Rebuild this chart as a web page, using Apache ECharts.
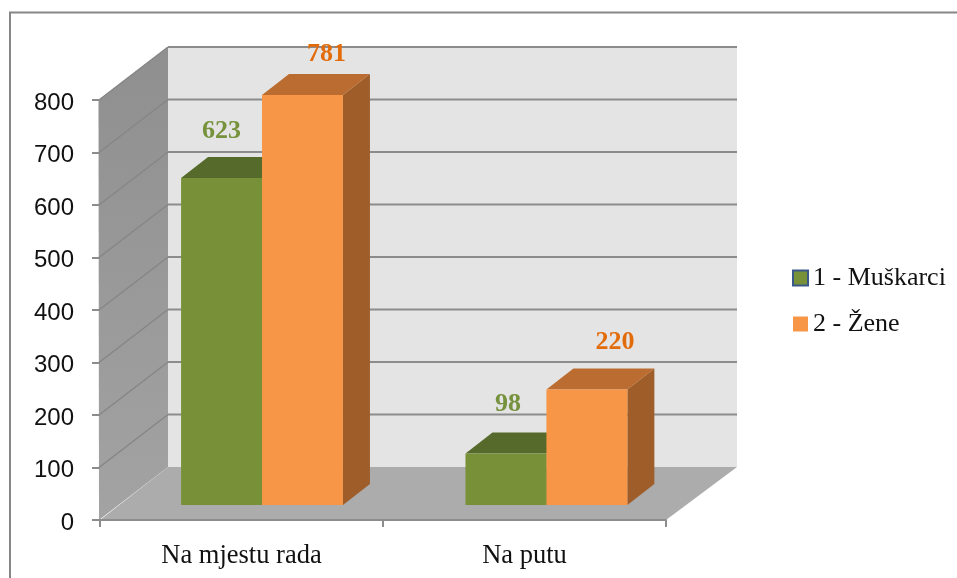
<!DOCTYPE html>
<html>
<head>
<meta charset="utf-8">
<title>Chart</title>
<style>
  html, body { margin: 0; padding: 0; background: #fff; overflow: hidden; }
  #chart { width: 957px; height: 578px; }
</style>
<script src="https://cdn.jsdelivr.net/npm/echarts@6/dist/echarts.min.js"></script>
</head>
<body>
<div id="chart"></div>
<script>
const categories = ['Na mjestu rada', 'Na putu'];
const menName = '1 - Muškarci';
const womenName = '2 - Žene';
const menValues = [623, 98];
const womenValues = [781, 220];
const yTicks = [100, 200, 300, 400, 500, 600, 700, 800];

// fake 3d: how far the back wall and the bars sit behind the axis plane
const wallDepth = [68, -53];
const wallExtra = 3; // back wall is a bit wider than the axis
const barInset = [19.8, -15];
const barDepth = [27, -21];
const barShare = 0.286;

// hand placed labels, same as the original
const menLabelShift = [[0, -47], [2, -49]];
const womenLabelShift = [[24, -41], [28, -47]];

function poly(points, fill) {
  return { type: 'polygon', shape: { points: points }, style: { fill: fill } };
}

function renderWalls(params, api) {
  const cs = params.coordSys;
  const left = cs.x;
  const right = cs.x + cs.width;
  const bottom = cs.y + cs.height;
  const dx = wallDepth[0];
  const dy = wallDepth[1];
  const backRight = right + dx + wallExtra;
  const y = api.coord([0, api.value(0)])[1];
  const children = [];

  if (params.dataIndex === 0) {
    children.push(poly([[left + dx, cs.y + dy], [backRight, cs.y + dy], [backRight, bottom + dy], [left + dx, bottom + dy]], '#e4e4e4'));
    children.push({
      type: 'polygon',
      shape: { points: [[left - 1.5, cs.y], [left + dx, cs.y + dy], [left + dx, bottom + dy], [left - 1, bottom]] },
      style: {
        fill: new echarts.graphic.LinearGradient(0, 0, 0, 1, [
          { offset: 0, color: '#8f8f8f' },
          { offset: 1, color: '#a3a3a3' }
        ])
      }
    });
    children.push(poly([[left, bottom], [right, bottom], [backRight, bottom + dy], [left + dx, bottom + dy]], '#acacac'));
  }

  children.push({
    type: 'line',
    shape: { x1: left - 1, y1: y, x2: left + dx, y2: y + dy },
    style: { stroke: '#868686', lineWidth: 1.5 }
  });
  children.push({
    type: 'line',
    shape: { x1: left + dx, y1: y + dy, x2: backRight, y2: y + dy },
    style: { stroke: '#8c8c8c', lineWidth: 2 }
  });
  return { type: 'group', children: children };
}

function barRenderer(slot, colors, labelColor, labelShift) {
  return function (params, api) {
    const band = api.size([1, 0])[0];
    const w = band * barShare;
    const base = api.coord([api.value(0), 0]);
    const top = api.coord([api.value(0), api.value(1)]);
    const drift = (base[0] - params.coordSys.x) * 0.005;
    const x0 = base[0] + barInset[0] + drift + (slot === 0 ? -w : 0);
    const x1 = x0 + w;
    const y0 = base[1] + barInset[1];
    const y1 = top[1] + barInset[1];
    const dx = barDepth[0];
    const dy = barDepth[1];
    const shift = labelShift[params.dataIndex];
    return {
      type: 'group',
      children: [
        poly([[x1, y1], [x1 + dx, y1 + dy], [x1 + dx, y0 + dy], [x1, y0]], colors.side),
        poly([[x0, y1], [x1, y1], [x1 + dx, y1 + dy], [x0 + dx, y1 + dy]], colors.top),
        poly([[x0, y1], [x1, y1], [x1, y0], [x0, y0]], colors.front),
        {
          type: 'text',
          x: (x0 + x1) / 2 + shift[0],
          y: y1 + shift[1],
          style: {
            text: String(api.value(1)),
            fill: labelColor,
            font: 'bold 26px "Liberation Serif"',
            align: 'center',
            verticalAlign: 'middle'
          }
        }
      ]
    };
  };
}

const chart = echarts.init(document.getElementById('chart'), null, { renderer: 'canvas' });

chart.setOption({
  animation: false,
  backgroundColor: '#fff',
  graphic: [{
    type: 'polyline',
    silent: true,
    shape: { points: [[10, 600], [10, 12.5], [980, 12.5]] },
    style: { stroke: '#868686', lineWidth: 2, fill: 'none' }
  }],
  grid: { left: 100, top: 100, width: 566, height: 420, containLabel: false },
  legend: {
    orient: 'vertical',
    left: 792,
    top: 265,
    padding: 0,
    icon: 'rect',
    itemWidth: 15,
    itemHeight: 15,
    itemGap: 20,
    textStyle: { fontFamily: 'Liberation Serif', fontSize: 26, color: '#111' },
    data: [
      { name: menName, itemStyle: { color: '#789138', borderColor: '#38598a', borderWidth: 2 } },
      { name: womenName, itemStyle: { color: '#f79646', borderWidth: 0 } }
    ]
  },
  xAxis: {
    type: 'category',
    data: categories,
    z: 5,
    axisLine: { lineStyle: { color: '#8c8c8c', width: 2 } },
    axisTick: { show: true, length: 7, lineStyle: { color: '#8c8c8c', width: 2 } },
    axisLabel: { fontFamily: 'Liberation Serif', fontSize: 26.5, color: '#111', margin: 23, interval: 0 }
  },
  yAxis: {
    type: 'value',
    min: 0,
    max: 800,
    interval: 100,
    z: 5,
    splitLine: { show: false },
    axisLine: { show: false },
    axisTick: { show: true, length: 8, lineStyle: { color: '#8c8c8c', width: 2 } },
    axisLabel: { fontFamily: 'Liberation Sans', fontSize: 24, color: '#111', margin: 26, verticalAlign: 'top', lineHeight: 6 }
  },
  series: [
    {
      type: 'custom',
      name: 'walls',
      z: 1,
      silent: true,
      renderItem: renderWalls,
      encode: { y: 0 },
      clip: false,
      data: yTicks.map(v => [v])
    },
    {
      type: 'custom',
      name: menName,
      z: 2,
      itemStyle: { color: '#789138' },
      renderItem: barRenderer(0, { front: '#789138', top: '#566b2b', side: '#566b2b' }, '#76923c', menLabelShift),
      encode: { x: 0, y: 1 },
      clip: false,
      data: categories.map((c, i) => [i, menValues[i]])
    },
    {
      type: 'custom',
      name: womenName,
      z: 3,
      itemStyle: { color: '#f79646' },
      renderItem: barRenderer(1, { front: '#f79646', top: '#bb6d31', side: '#9e5d29' }, '#e36c0a', womenLabelShift),
      encode: { x: 0, y: 1 },
      clip: false,
      data: categories.map((c, i) => [i, womenValues[i]])
    }
  ]
});
</script>
</body>
</html>
